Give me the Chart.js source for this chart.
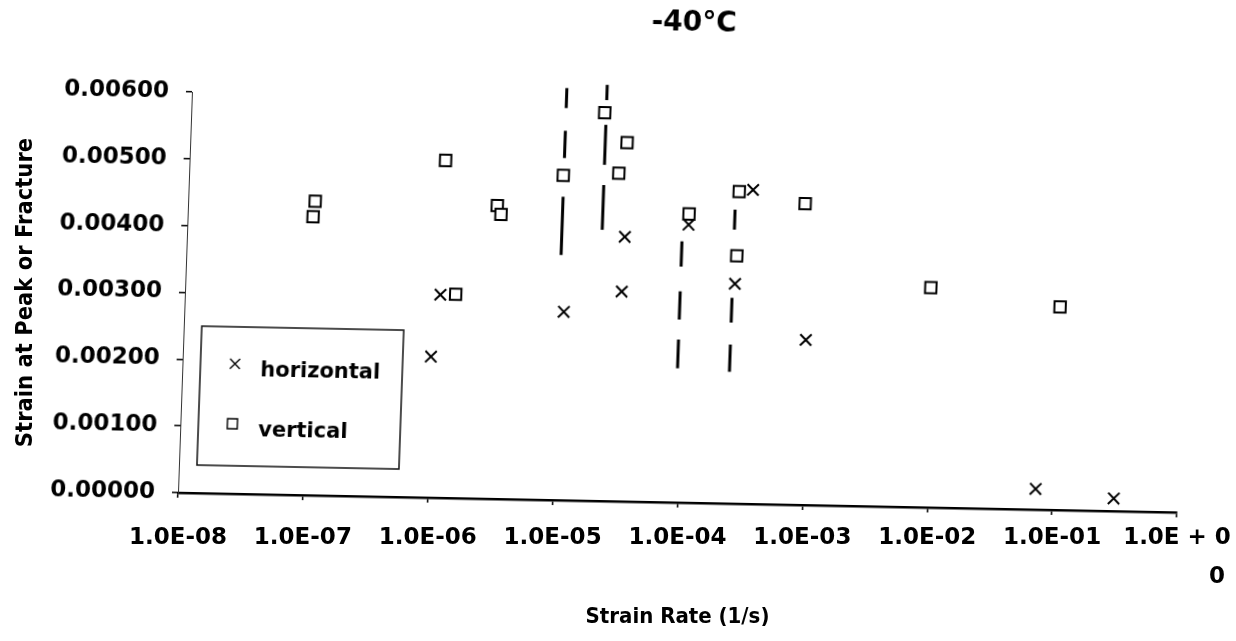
<!DOCTYPE html>
<html>
<head>
<meta charset="utf-8">
<script src="https://cdn.jsdelivr.net/npm/chart.js@4.4.1/dist/chart.umd.min.js"></script>
<style>
  html, body { margin: 0; padding: 0; background: #fff; }
  #wrap { position: relative; width: 1236px; height: 641px; overflow: hidden; background: #fff; }
  #wrap canvas { position: absolute; left: 0; top: 0; }
</style>
</head>
<body>
<div id="wrap">
  <canvas id="textLayer" width="1236" height="641"></canvas>
  <canvas id="plotLayer" width="1236" height="641"></canvas>
</div>
<script>
// ---- labels ----
const chartTitle = '-40°C';
const xAxisTitle = 'Strain Rate (1/s)';
const yAxisTitle = 'Strain at Peak or Fracture';

const xTickValues = [1e-8, 1e-7, 1e-6, 1e-5, 1e-4, 1e-3, 1e-2, 1e-1, 1];
const xTickLabels = ['1.0E-08', '1.0E-07', '1.0E-06', '1.0E-05', '1.0E-04',
                     '1.0E-03', '1.0E-02', '1.0E-01', ['1.0E + 0', '          0']];
const yTickValues = [0, 0.001, 0.002, 0.003, 0.004, 0.005, 0.006];
const yTickLabels = ['0.00000', '0.00100', '0.00200', '0.00300', '0.00400', '0.00500', '0.00600'];

// ---- horizontal specimens ----
const horizontalRate   = [9.7e-7, 1.11e-6, 1.09e-5, 3.2e-5, 3.13e-5, 1.03e-4, 2.51e-4, 3.3e-4, 9.6e-4, 7.3e-2, 3.1e-1];
const horizontalStrain = [0.00211, 0.00304, 0.00282, 0.00396, 0.00314, 0.00416, 0.00329, 0.00470, 0.00247, 0.00031, 0.00019];

// ---- vertical specimens ----
const verticalRate   = [1.01e-7, 1.04e-7, 1.12e-6, 1.47e-6, 2.99e-6, 3.22e-6, 9.9e-6, 2.04e-5,
                        2.75e-5, 3.14e-5, 1.03e-4, 2.55e-4, 2.56e-4, 8.7e-4, 9.3e-3, 1.02e-1];
const verticalStrain = [0.00417, 0.00440, 0.00505, 0.00305, 0.00439, 0.00426, 0.00486, 0.00581,
                        0.00491, 0.00537, 0.00432, 0.00371, 0.00467, 0.00451, 0.00329, 0.00304];

// ---- dashed range bars: rate of each bar, then (top, bottom) strain of every dash ----
const rangeRate = [1.0e-5, 2.1e-5, 9.2e-5, 2.4e-4];
const rangeDashes = [
  [0.00617, 0.00587, 0.00553, 0.00512, 0.00454, 0.00367],
  [0.00623, 0.00600, 0.00563, 0.00503, 0.00473, 0.00406],
  [0.00391, 0.00353, 0.00316, 0.00274, 0.00244, 0.00201],
  [0.00440, 0.00410, 0.00308, 0.00271, 0.00238, 0.00197]
];

// The plotted frame leans a little: the x axis dips toward the right and the
// y axis tilts right toward its top, so the plot layer gets a small affine skew.
const frameSkew = { xAxisDip: 0.0197, yAxisLean: 0.0349 };

const INK = '#000';
const NONE = 'rgba(0,0,0,0)';

function pairs(xs, ys) {
  return xs.map((x, i) => ({ x: x, y: ys[i] }));
}

function rangePoints(rate, dashes) {
  const pts = [];
  for (let i = 0; i < dashes.length; i += 2) {
    pts.push({ x: rate, y: dashes[i] }, { x: rate, y: dashes[i + 1] }, { x: rate, y: null });
  }
  return pts;
}

function plotDatasets() {
  const sets = [
    {
      label: 'horizontal',
      data: pairs(horizontalRate, horizontalStrain),
      pointStyle: 'crossRot',
      pointRadius: 8,
      pointBorderWidth: 2,
      borderColor: INK,
      backgroundColor: INK,
      showLine: false,
      order: 0
    },
    {
      label: 'vertical',
      data: pairs(verticalRate, verticalStrain),
      pointStyle: 'rect',
      pointRadius: 8,
      pointBorderWidth: 2,
      borderColor: INK,
      backgroundColor: '#fff',
      showLine: false,
      order: 1
    }
  ];
  rangeRate.forEach((rate, i) => {
    sets.push({
      label: 'range ' + (i + 1),
      data: rangePoints(rate, rangeDashes[i]),
      showLine: true,
      spanGaps: false,
      pointRadius: 0,
      borderColor: INK,
      borderWidth: 3,
      clip: false,
      order: 5
    });
  });
  return sets;
}

// Boxed legend sitting inside the lower-left of the plot area.
const insetLegend = {
  id: 'insetLegend',
  afterDraw(chart) {
    const { ctx, chartArea: a } = chart;
    const bx = a.left + 18, by = a.top + 234, bw = 202, bh = 139;
    ctx.save();
    ctx.fillStyle = '#fff';
    ctx.fillRect(bx, by, bw, bh);
    ctx.strokeStyle = '#111';
    ctx.lineWidth = 1.5;
    ctx.strokeRect(bx, by, bw, bh);

    const entries = [
      { ds: chart.data.datasets[0], mx: 34.5, my: 37, ty: 44 },
      { ds: chart.data.datasets[1], mx: 34, my: 97, ty: 104 }
    ];
    ctx.font = 'bold 21px "DejaVu Sans"';
    ctx.textBaseline = 'middle';
    ctx.textAlign = 'left';
    entries.forEach(e => {
      const cx = bx + e.mx, cy = by + e.my, h = 5;
      ctx.strokeStyle = INK;
      ctx.lineWidth = 1.4;
      ctx.beginPath();
      if (e.ds.pointStyle === 'crossRot') {
        ctx.moveTo(cx - h, cy - h); ctx.lineTo(cx + h, cy + h);
        ctx.moveTo(cx + h, cy - h); ctx.lineTo(cx - h, cy + h);
      } else {
        ctx.rect(cx - h, cy - h, 2 * h, 2 * h);
      }
      ctx.stroke();
      ctx.fillStyle = INK;
      ctx.fillText(e.ds.label, bx + 60, by + e.ty);
    });
    ctx.restore();
  }
};

function buildConfig(layer) {
  const isPlot = layer === 'plot';
  const plotInk = isPlot ? INK : NONE;
  const textInk = isPlot ? NONE : INK;
  const tickFont = { family: '"DejaVu Sans"', weight: 'bold', size: 23 };
  const titleFont = { family: '"DejaVu Sans Condensed", "DejaVu Sans"', weight: 'bold', size: 22 };

  return {
    type: 'scatter',
    data: { datasets: isPlot ? plotDatasets() : [] },
    options: {
      responsive: false,
      animation: false,
      devicePixelRatio: 1,
      events: [],
      layout: { padding: { top: 0, right: 59, bottom: 0, left: 0 } },
      plugins: {
        legend: { display: false },
        tooltip: { enabled: false },
        title: {
          display: true,
          text: chartTitle,
          color: plotInk,
          fullSize: false,
          font: { family: '"DejaVu Sans"', weight: 'bold', size: 28, lineHeight: 1 },
          padding: { top: 0, bottom: 64 }
        }
      },
      scales: {
        x: {
          type: 'logarithmic',
          position: 'bottom',
          min: 1e-8,
          max: 1,
          afterFit: s => { s.height = 148; s.paddingLeft = 0; s.paddingRight = 0; },
          afterBuildTicks: s => { s.ticks = xTickValues.map(v => ({ value: v })); },
          ticks: {
            autoSkip: false,
            maxRotation: 0,
            minRotation: 0,
            padding: 20,
            color: textInk,
            font: Object.assign({}, tickFont, { lineHeight: 1.7 }),
            callback: (v, i) => xTickLabels[i]
          },
          grid: { drawOnChartArea: false, drawTicks: true, tickLength: 5, color: plotInk, lineWidth: 1.5 },
          border: { display: true, color: plotInk, width: 2.5 },
          title: { display: true, text: xAxisTitle, color: textInk, font: titleFont, padding: { top: 0, bottom: 11 } }
        },
        y: {
          type: 'linear',
          min: 0,
          max: 0.006,
          afterFit: s => { s.width = 178; s.paddingTop = 0; s.paddingBottom = 0; },
          afterBuildTicks: s => { s.ticks = yTickValues.map(v => ({ value: v })); },
          ticks: {
            padding: 17,
            color: plotInk,
            font: tickFont,
            callback: (v, i) => yTickLabels[i]
          },
          grid: { drawOnChartArea: false, drawTicks: true, tickLength: 6, color: plotInk, lineWidth: 1.5 },
          border: { display: true, color: isPlot ? '#333' : NONE, width: 1 },
          title: {
            display: true, text: yAxisTitle, align: 'center', color: textInk,
            font: Object.assign({}, titleFont, { size: 23.5 }),
            padding: { top: 12, bottom: 0 }
          }
        }
      }
    },
    plugins: isPlot ? [insetLegend] : []
  };
}

const textChart = new Chart(document.getElementById('textLayer'), buildConfig('text'));
const plotCanvas = document.getElementById('plotLayer');
const plotChart = new Chart(plotCanvas, buildConfig('plot'));

const area = plotChart.chartArea;
plotCanvas.style.transformOrigin = area.left + 'px ' + area.bottom + 'px';
plotCanvas.style.transform = 'matrix(1, ' + frameSkew.xAxisDip + ', ' + (-frameSkew.yAxisLean) + ', 1, 0, 0)';
</script>
</body>
</html>
